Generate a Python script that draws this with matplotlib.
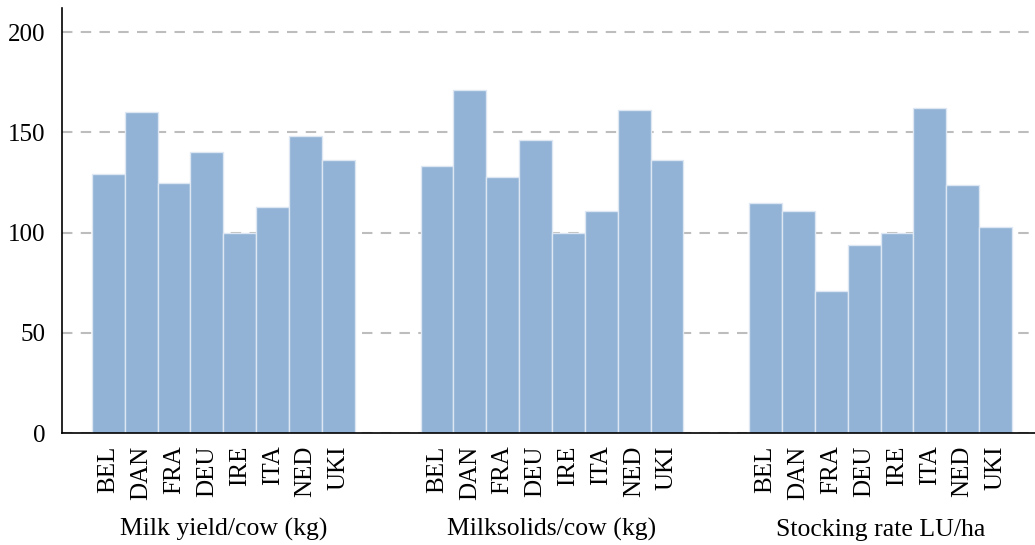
import matplotlib
matplotlib.use("Agg")
import matplotlib.pyplot as plt
import matplotlib.transforms as mtransforms
import numpy as np

countries = ["BEL", "DAN", "FRA", "DEU", "IRE", "ITA", "NED", "UKI"]
groups = ["Milk yield/cow (kg)", "Milksolids/cow (kg)", "Stocking rate LU/ha"]

milk_yield = [129, 160, 125, 140, 100, 113, 148, 136]
milksolids = [133, 171, 128, 146, 100, 111, 161, 136]
stocking = [115, 111, 71, 94, 100, 162, 124, 103]
series = [milk_yield, milksolids, stocking]

plt.rcParams["font.family"] = ["Liberation Serif", "DejaVu Serif"]

fig = plt.figure(figsize=(10.35, 5.45), dpi=100)
ax = fig.add_axes([0.0599, 0.2055, 0.9401, 0.7795])

gap = 10
xpos, xlab = [], []
for g, vals in enumerate(series):
    x = np.arange(len(countries)) + g * gap
    ax.bar(x, vals, width=1.0, color="#92b2d6", edgecolor="#dde7f3",
           linewidth=1.0, zorder=2)
    xpos.extend(x)
    xlab.extend(countries)

ax.set_xticks(xpos)
ax.set_xticklabels(xlab, rotation=90, va="top", ha="center", fontsize=18)
ax.set_xlim(-1.41, 28.2)
ax.set_ylim(0, 212)
ax.set_yticks([0, 50, 100, 150, 200])
ax.tick_params(axis="both", length=0, labelsize=18)
ax.tick_params(axis="x", pad=9)
ax.tick_params(axis="y", pad=12)

ax.yaxis.grid(True, color="#bdbdbd", linestyle=(0, (5, 4)), linewidth=1.5, zorder=0)
ax.set_axisbelow(True)

for s in ["top", "right"]:
    ax.spines[s].set_visible(False)
ax.spines["left"].set_linewidth(1.2)
ax.spines["bottom"].set_linewidth(1.2)

trans = mtransforms.blended_transform_factory(ax.transData, ax.transAxes)
for g, name in enumerate(groups):
    cx = g * gap + (len(countries) - 1) / 2
    ax.text(cx, -0.228, name, transform=trans, ha="center", va="center", fontsize=18.5)

fig.savefig("out.png", dpi=100)
